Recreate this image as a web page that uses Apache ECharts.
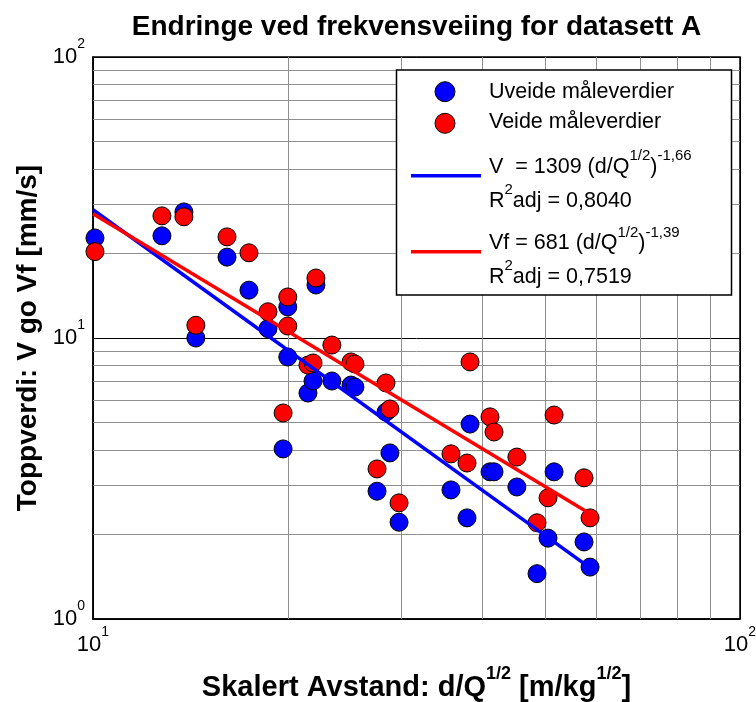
<!DOCTYPE html>
<html><head><meta charset="utf-8">
<script src="https://cdn.jsdelivr.net/npm/echarts@6/dist/echarts.min.js"></script>
<style>html,body{margin:0;padding:0;background:#fff}#c{width:756px;height:702px}</style>
</head><body><div id="c"></div>
<script>
// ---- data ----
const xTicks = [10, 100];
const xTickSup = ['1', '2'];
const yTicks = [1, 10, 100];
const yTickSup = ['0', '1', '2'];
const xGridMinor = [20, 30, 40, 50, 60, 70, 80, 90];
const yGridMinor = [2, 3, 4, 5, 6, 7, 8, 9, 20, 30, 40, 50, 60, 70, 80, 90];

const distance   = [10.07, 12.78, 13.82, 14.42, 16.11, 17.42, 18.64, 19.67, 20.0, 20.0, 21.49, 21.88, 22.11, 23.4, 25.05, 25.4, 27.48, 28.37, 28.77, 29.72, 35.75, 37.85, 38.26, 41.08, 41.67, 45.2, 48.56, 50.5, 51.6, 57.4, 58.65];
const vUnweighted = [22.7, 23.1, 28.1, 10.0, 19.4, 14.8, 10.8, 4.03, 12.9, 8.56, 6.37, 7.03, 15.44, 7.03, 6.80, 6.69, 2.85, 5.45, 3.90, 2.21, 2.88, 2.29, 4.94, 3.34, 3.34, 2.95, 1.45, 1.94, 3.34, 1.88, 1.53];
const vWeighted   = [20.3, 27.2, 27.0, 11.1, 22.9, 20.1, 12.4, 5.41, 14.0, 11.03, 8.01, 8.15, 16.35, 9.44, 8.22, 8.08, 3.42, 6.92, 5.59, 2.59, 3.87, 3.59, 8.22, 5.24, 4.63, 3.77, 2.20, 2.70, 5.32, 3.18, 2.29];
const fitX  = [10, 58.65];
const fitV  = [28.6, 1.52];
const fitVf = [27.7, 2.37];

const FONT = 'Liberation Sans, Arial, sans-serif';
const pairs = (xs, ys) => xs.map((x, i) => [x, ys[i]]);
const supLabel = (ticks, sups) => v => {
  const i = ticks.findIndex(t => Math.abs(t - v) / t < 1e-6);
  return i < 0 ? '' : '{b|10}{s|' + sups[i] + '}';
};
const tickRich = {
  b: { fontSize: 22, lineHeight: 40, fontFamily: FONT, color: '#000', verticalAlign: 'middle' },
  s: { fontSize: 14, fontFamily: FONT, color: '#000', verticalAlign: 'top' }
};
const legRich = {
  n: { fontSize: 21.5, lineHeight: 36, fontFamily: FONT, fill: '#000', color: '#000', verticalAlign: 'middle' },
  s: { fontSize: 15, fontFamily: FONT, fill: '#000', color: '#000', verticalAlign: 'top' }
};

const chart = echarts.init(document.getElementById('c'), null, { renderer: 'canvas' });
const legText = (y, text) => ({
  type: 'text', z: 101, x: 489, y: y,
  style: { text: text, rich: legRich, fontSize: 21.5, fontFamily: FONT, fill: '#000', align: 'left', verticalAlign: 'middle' }
});

chart.setOption({
  animation: false,
  backgroundColor: '#fff',
  grid: { left: 93, right: 16, top: 57, bottom: 83, show: true, borderColor: '#000', borderWidth: 1.5, backgroundColor: '#fff', outerBoundsMode: 'none', containLabel: false },
  xAxis: {
    type: 'log', logBase: 10, min: 10, max: 100,
    axisLine: { show: true, lineStyle: { color: '#000', width: 1.5 } },
    axisTick: { show: true, inside: true, length: 5, lineStyle: { color: '#000' } },
    splitLine: { show: true, lineStyle: { color: '#000', width: 1 } },
    axisLabel: { show: true, margin: 6, formatter: supLabel(xTicks, xTickSup), rich: tickRich, showMinLabel: true, showMaxLabel: true, hideOverlap: false },
    name: '{n|Skalert Avstand: d/Q}{s|1/2}{n| [m/kg}{s|1/2}{n|]}',
    nameLocation: 'middle', nameGap: 46,
    nameTextStyle: {
      rich: {
        n: { fontSize: 29, fontWeight: 'bold', lineHeight: 46, fontFamily: FONT, color: '#000', verticalAlign: 'middle' },
        s: { fontSize: 18, fontWeight: 'bold', fontFamily: FONT, color: '#000', verticalAlign: 'top' }
      }
    }
  },
  yAxis: {
    type: 'log', logBase: 10, min: 1, max: 100,
    axisLine: { show: true, lineStyle: { color: '#000', width: 1.5 } },
    axisTick: { show: true, inside: true, length: 5, lineStyle: { color: '#000' } },
    splitLine: { show: true, lineStyle: { color: '#000', width: 1 } },
    axisLabel: { show: true, margin: 8, formatter: supLabel(yTicks, yTickSup), rich: tickRich, showMinLabel: true, showMaxLabel: true, hideOverlap: false },
    name: 'Toppverdi: V go Vf [mm/s]',
    nameLocation: 'middle', nameGap: 40,
    nameTextStyle: { fontSize: 28, fontWeight: 'bold', fontFamily: FONT, color: '#000' }
  },
  series: [
    {
      type: 'line', data: [], silent: true,
      markLine: {
        silent: true, z: 1, symbol: ['none', 'none'], label: { show: false },
        emphasis: { disabled: true },
        lineStyle: { color: '#8f8f8f', width: 1, type: 'solid' },
        data: xGridMinor.map(v => ({ xAxis: v })).concat(yGridMinor.map(v => ({ yAxis: v })))
      }
    },
    {
      name: 'Uveide måleverdier', type: 'scatter', z: 10, symbol: 'circle', symbolSize: 18,
      itemStyle: { color: '#0000ff', borderColor: '#000', borderWidth: 1, opacity: 1 },
      data: pairs(distance, vUnweighted)
    },
    {
      name: 'Veide måleverdier', type: 'scatter', z: 11, symbol: 'circle', symbolSize: 18,
      itemStyle: { color: '#ff0000', borderColor: '#000', borderWidth: 1, opacity: 1 },
      data: pairs(distance, vWeighted)
    },
    {
      name: 'V fit', type: 'line', z: 12, symbol: 'none', silent: true,
      lineStyle: { color: '#0000ff', width: 3.5 },
      data: pairs(fitX, fitV)
    },
    {
      name: 'Vf fit', type: 'line', z: 13, symbol: 'none', silent: true,
      lineStyle: { color: '#ff0000', width: 3.5 },
      data: pairs(fitX, fitVf)
    }
  ],
  graphic: [
    {
      type: 'text', z: 100, x: 416.5, y: 27.5,
      style: { text: 'Endringe ved frekvensveiing for datasett A', fontSize: 28, fontWeight: 'bold', fontFamily: FONT, fill: '#000', align: 'center', verticalAlign: 'middle' }
    },
    {
      type: 'rect', z: 100, shape: { x: 396.5, y: 70, width: 335, height: 225 },
      style: { fill: '#fff', stroke: '#000', lineWidth: 1.5 }
    },
    { type: 'circle', z: 101, shape: { cx: 445, cy: 91.7, r: 10 }, style: { fill: '#0000ff', stroke: '#000', lineWidth: 1 } },
    { type: 'circle', z: 101, shape: { cx: 445, cy: 123.3, r: 10 }, style: { fill: '#ff0000', stroke: '#000', lineWidth: 1 } },
    { type: 'line', z: 101, shape: { x1: 411, y1: 175.7, x2: 481, y2: 175.7 }, style: { stroke: '#0000ff', lineWidth: 3.5 } },
    { type: 'line', z: 101, shape: { x1: 411, y1: 251.7, x2: 481, y2: 251.7 }, style: { stroke: '#ff0000', lineWidth: 3.5 } },
    legText(92.5, '{n|Uveide måleverdier}'),
    legText(122.5, '{n|Veide måleverdier}'),
    legText(166.7, '{n|V  = 1309 (d/Q}{s|1/2}{n|)}{s|-1,66}'),
    legText(200.7, '{n|R}{s|2}{n|adj = 0,8040}'),
    legText(243.3, '{n|Vf = 681 (d/Q}{s|1/2}{n|)}{s|-1,39}'),
    legText(276.7, '{n|R}{s|2}{n|adj = 0,7519}')
  ]
});
</script>
</body></html>
